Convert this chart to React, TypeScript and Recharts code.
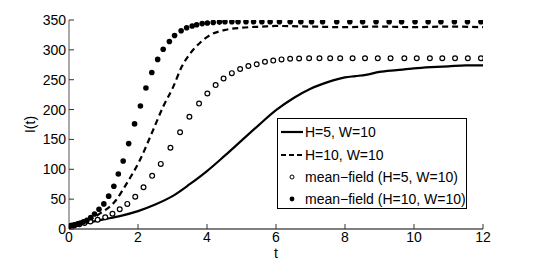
import React from "react";
import {
  ComposedChart,
  Line,
  Scatter,
  XAxis,
  YAxis,
  Legend,
} from "recharts";

// simulation H=5, W=10 (solid)
const solidT = [0, 0.5, 1, 1.5, 2, 2.5, 3, 3.5, 4, 4.5, 5, 5.5, 6, 6.5, 7, 7.5, 8, 8.3, 8.6, 9, 9.5, 10, 10.5, 11, 11.5, 12];
const solidI = [5, 10, 16, 22, 30, 41, 55, 75, 97, 122, 148, 174, 199, 219, 235, 246, 254, 256, 258, 263, 266, 269, 271, 272.5, 274, 274];

// simulation H=10, W=10 (dashed)
const dashedT = [0, 0.5, 0.9, 1.33, 1.67, 2.06, 2.44, 2.73, 3.02, 3.27, 3.5, 3.8, 4.1, 4.5, 5, 5.6, 6, 7, 8, 9, 10, 11, 12];
const dashedI = [5, 12, 26, 46, 76, 116, 166, 205, 238, 272, 293, 312, 325, 333, 337, 339, 340, 339, 338, 339, 338, 339, 338];

// mean-field H=5, W=10 (open circles)
const openT = [0, 0.15, 0.3, 0.45, 0.62, 0.83, 1.05, 1.26, 1.47, 1.69, 1.92, 2.16, 2.41, 2.66, 2.94, 3.22, 3.49, 3.77, 4.01, 4.25, 4.48, 4.72, 4.96, 5.2, 5.44, 5.68, 5.92, 6.16, 6.41, 6.67, 6.96, 7.26, 7.57, 7.86, 8.22, 8.58, 8.95, 9.32, 9.72, 10.08, 10.46, 10.82, 11.19, 11.56, 11.94];
const openI = [5, 6, 8, 10, 12.5, 15.5, 19.6, 25.6, 33, 42, 54, 70, 89, 109, 136, 162, 188, 210, 227, 241, 252, 261, 268, 273, 276, 280, 282, 284, 285, 285.5, 286, 286, 286, 286, 286, 286, 286, 286, 286, 286, 286, 286, 286, 286, 286];

// mean-field H=10, W=10 (filled dots)
const filledT = [0, 0.08, 0.16, 0.25, 0.33, 0.42, 0.52, 0.63, 0.74, 0.87, 1.01, 1.15, 1.3, 1.43, 1.57, 1.73, 1.9, 2.07, 2.23, 2.4, 2.57, 2.73, 2.91, 3.06, 3.25, 3.41, 3.57, 3.7, 3.86, 4.01, 4.18, 4.36, 4.52, 4.72, 4.9, 5.13, 5.35, 5.59, 5.83, 6.1, 6.41, 6.72, 7.03, 7.35, 7.76, 8.14, 8.51, 8.9, 9.28, 9.64, 10.03, 10.41, 10.78, 11.17, 11.55, 11.94];
const filledI = [5, 6, 7, 8.5, 10, 12, 14.5, 19, 25, 33, 42, 55, 71.5, 92, 114, 143, 176, 206, 236, 262, 284, 301, 314, 324, 332, 337, 340, 342, 344, 345, 346, 346.5, 347, 347, 347, 347, 347, 347, 347, 347, 347, 347, 347, 347, 347, 347, 347, 347, 347, 347, 347, 347, 347, 347, 347, 347];

const xTicks = [0, 2, 4, 6, 8, 10, 12];
const yTicks = [0, 50, 100, 150, 200, 250, 300, 350];

const legendLabels = [
  "H=5, W=10",
  "H=10, W=10",
  "mean\u2212field (H=5, W=10)",
  "mean\u2212field (H=10, W=10)",
];

const toPoints = (ts: number[], vs: number[]) => ts.map((t, i) => ({ t, I: vs[i] }));

const solidData = toPoints(solidT, solidI);
const dashedData = toPoints(dashedT, dashedI);
const openData = toPoints(openT, openI);
const filledData = toPoints(filledT, filledI);

const FONT = "'Liberation Sans', Arial, Helvetica, sans-serif";

const OpenDot = (p: any) => (
  <circle cx={p.cx} cy={p.cy} r={2.4} fill="#fff" stroke="#000" strokeWidth={1.2} />
);
const FilledDot = (p: any) => <circle cx={p.cx} cy={p.cy} r={2.8} fill="#000" />;

function LegendBox() {
  const icon = (i: number) => {
    if (i === 0) return <line x1={3} x2={25} y1={6} y2={6} stroke="#000" strokeWidth={2.2} />;
    if (i === 1)
      return <line x1={3} x2={25} y1={6} y2={6} stroke="#000" strokeWidth={2} strokeDasharray="5 3" />;
    if (i === 2) return <circle cx={14} cy={6} r={2} fill="#fff" stroke="#000" strokeWidth={1} />;
    return <circle cx={14} cy={6} r={2.4} fill="#000" />;
  };
  return (
    <div
      style={{
        width: 190,
        height: 91,
        boxSizing: "border-box",
        border: "1px solid #000",
        background: "#fff",
        paddingTop: 2,
        fontFamily: FONT,
        fontSize: 14,
        color: "#000",
      }}
    >
      {legendLabels.map((lab, i) => (
        <div key={lab} style={{ display: "flex", alignItems: "center", height: 22.4 }}>
          <svg width={27} height={12} style={{ display: "block" }}>
            {icon(i)}
          </svg>
          <span style={{ whiteSpace: "nowrap" }}>{lab}</span>
        </div>
      ))}
    </div>
  );
}

export default function App() {
  const tickStyle = { fontFamily: FONT, fontSize: 14, fill: "#000" };
  return (
    <div style={{ position: "absolute", left: 0, top: 0, width: 534, height: 261, background: "#fff" }}>
      <ComposedChart width={534} height={261} margin={{ top: 20, right: 51, bottom: 0, left: 0 }}>
        <XAxis
          xAxisId="b"
          dataKey="t"
          type="number"
          domain={[0, 12]}
          ticks={xTicks}
          allowDataOverflow
          height={32}
          tickSize={-5}
          tickMargin={8}
          tick={tickStyle}
          axisLine={{ stroke: "#808080", strokeWidth: 2 }}
          tickLine={{ stroke: "#333" }}
          label={{ value: "t", position: "insideBottom", offset: 3, style: { fontFamily: FONT, fontSize: 14, fill: "#000" } }}
        />
        <XAxis
          xAxisId="top"
          orientation="top"
          dataKey="t"
          type="number"
          domain={[0, 12]}
          ticks={xTicks}
          allowDataOverflow
          height={0}
          tickSize={-5}
          tick={false}
          axisLine={{ stroke: "#000" }}
          tickLine={{ stroke: "#333" }}
        />
        <YAxis
          yAxisId="l"
          type="number"
          domain={[0, 350]}
          ticks={yTicks}
          allowDataOverflow
          width={69}
          tickSize={-5}
          tickMargin={8}
          tick={tickStyle}
          axisLine={{ stroke: "#555" }}
          tickLine={{ stroke: "#333" }}
          label={{
            value: "I(t)",
            angle: -90,
            position: "insideLeft",
            offset: 30,
            style: { textAnchor: "middle", fontFamily: FONT, fontSize: 14, fill: "#000" },
          }}
        />
        <YAxis
          yAxisId="r"
          orientation="right"
          type="number"
          domain={[0, 350]}
          ticks={yTicks}
          allowDataOverflow
          width={0}
          tickSize={-5}
          tick={false}
          axisLine={{ stroke: "#000" }}
          tickLine={{ stroke: "#333" }}
        />
        <Line
          xAxisId="b"
          yAxisId="l"
          data={solidData}
          dataKey="I"
          type="monotone"
          stroke="#000"
          strokeWidth={2.2}
          dot={false}
          isAnimationActive={false}
        />
        <Line
          xAxisId="b"
          yAxisId="l"
          data={dashedData}
          dataKey="I"
          type="monotone"
          stroke="#000"
          strokeWidth={2.2}
          strokeDasharray="6 4"
          dot={false}
          isAnimationActive={false}
        />
        <Scatter
          xAxisId="b"
          yAxisId="l"
          data={openData}
          dataKey="I"
          shape={OpenDot}
          isAnimationActive={false}
        />
        <Scatter
          xAxisId="b"
          yAxisId="l"
          data={filledData}
          dataKey="I"
          shape={FilledDot}
          isAnimationActive={false}
        />
        <Legend
          layout="vertical"
          align="center"
          verticalAlign="middle"
          wrapperStyle={{ left: 277, top: 118, width: 190, height: 91 }}
          content={() => <LegendBox />}
        />
      </ComposedChart>
    </div>
  );
}
